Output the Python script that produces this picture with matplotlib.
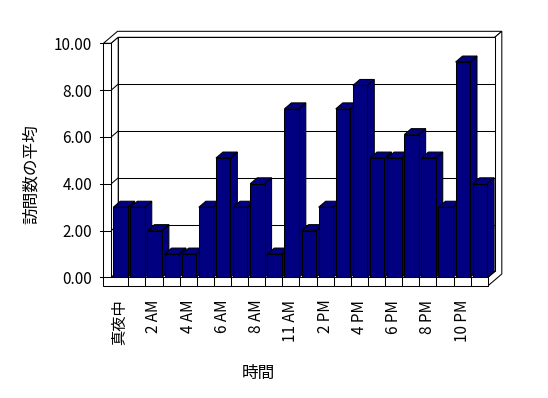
#!/usr/bin/env python3

# Cargamos las librerias necesarias
import matplotlib.pyplot as plt
from matplotlib.patches import Polygon

# Fuente con glifos japoneses
plt.rcParams['font.family'] = ['Noto Sans CJK JP', 'DejaVu Sans']

# Datos del grafico: horas y visitas medias
horas = ["真夜中", "1 AM", "2 AM", "3 AM", "4 AM", "5 AM", "6 AM", "7 AM",
         "8 AM", "9 AM", "11 AM", "12 PM", "2 PM", "3 PM", "4 PM", "5 PM",
         "6 PM", "7 PM", "8 PM", "9 PM", "10 PM", "11 PM"]
visitas = [3.0, 3.0, 2.0, 1.0, 1.0, 3.0, 5.1, 3.0, 4.0, 1.0, 7.2, 2.0,
           3.0, 7.2, 8.2, 5.1, 5.1, 6.1, 5.1, 3.0, 9.2, 4.0]
marcas_y = [0, 2, 4, 6, 8, 10]

# Solo se muestra una etiqueta de cada dos
etiquetas = [h if i % 2 == 0 else "" for i, h in enumerate(horas)]

fig = plt.figure(figsize=(5.48, 3.98), dpi=100)
ax = fig.add_axes([0.2029, 0.3028, 0.6872, 0.5884])

x0, x1 = -0.5, len(horas) - 0.5
ymax = marcas_y[-1]
ax.set_xlim(x0, x1)
ax.set_ylim(0, ymax)

# Desplazamiento de profundidad (efecto 3D) y grosor de paredes
dx, dy = 0.41, 0.256
tx, ty = 0.45, 0.363
ext = 0.23
lw = 0.75


def P(x, y, k):
    return (x + k * dx, y + k * dy)


def cara(puntos, z, color="white"):
    ax.add_patch(Polygon(puntos, closed=True, facecolor=color,
                         edgecolor="black", lw=lw, zorder=z, clip_on=False))


# Paredes: superior, lateral derecho, fondo y pared izquierda
cara([P(x0 - tx, ymax, 0), P(x0, ymax, 0), P(x0, ymax, 1), P(x1, ymax, 1),
      P(x1, ymax, 2), P(x0 - tx, ymax, 2)], 1)
cara([P(x1, -ty, 0), P(x1, 0, 0), P(x1, 0, 1), P(x1, ymax, 1),
      P(x1, ymax, 2), P(x1, -ty, 2)], 1)
cara([P(x0, 0, 1), P(x1, 0, 1), P(x1, ymax, 1), P(x0, ymax, 1)], 1)
cara([P(x0, 0, 0), P(x0, ymax, 0), P(x0, ymax, 1), P(x0, 0, 1)], 1)
cara([P(x0, 0, 0), P(x1, 0, 0), P(x1, 0, 1), P(x0, 0, 1)], 1)

# Lineas de cuadricula en el fondo y en la pared izquierda
for v in marcas_y[1:-1]:
    ax.plot(*zip(P(x0, v, 1), P(x1, v, 1)), color="black", lw=lw,
            zorder=1.5, clip_on=False)
    ax.plot(*zip(P(x0, v, 0), P(x0, v, 1)), color="black", lw=lw,
            zorder=1.5, clip_on=False)

# Barras con cara frontal, lateral y superior
barras = ax.bar([i - 0.38 for i in range(len(horas))], visitas, width=0.84,
                align="edge", color="#000080", edgecolor="black", lw=lw)
for i, (b, v) in enumerate(zip(barras, visitas)):
    z = 3 + i * 0.1
    b.set_zorder(z + 0.02)
    l = b.get_x()
    r = l + b.get_width()
    cara([P(r, 0, 0), P(r, v, 0), P(r, v, 1), P(r, 0, 1)], z, "#000080")
    cara([P(l, v, 0), P(r, v, 0), P(r, v, 1), P(l, v, 1)], z + 0.01, "#000080")

# Cara frontal del suelo y de la pared izquierda
cara([P(x0 - tx, -ty, 0), P(x1, -ty, 0), P(x1, 0, 0), P(x0, 0, 0),
      P(x0, ymax, 0), P(x0 - tx, ymax, 0)], 10)
for i in range(len(horas) - 1):
    ax.plot([i + 0.5, i + 0.5], [-ty, 0], color="black", lw=lw,
            zorder=11, clip_on=False)
for v in marcas_y:
    ax.plot([x0 - tx - ext, x0], [v, v], color="black", lw=lw,
            zorder=11, clip_on=False)

# Ejes y etiquetas
for s in ax.spines.values():
    s.set_visible(False)
ax.set_xticks(range(len(horas)))
ax.set_xticklabels(etiquetas, rotation=90, fontsize=11)
ax.set_yticks(marcas_y)
ax.set_yticklabels([f"{v:.2f}" for v in marcas_y], fontsize=11)
ax.tick_params(axis="x", length=0, pad=16)
ax.tick_params(axis="y", length=0, pad=13.7)

fig.text(258 / 548, 1 - 373 / 398, "時間", fontsize=12,
         ha="center", va="center")
fig.text(31 / 548, 1 - 174 / 398, "訪問数の平均", fontsize=12,
         rotation=90, ha="center", va="center")

fig.savefig("out.png", dpi=100)
